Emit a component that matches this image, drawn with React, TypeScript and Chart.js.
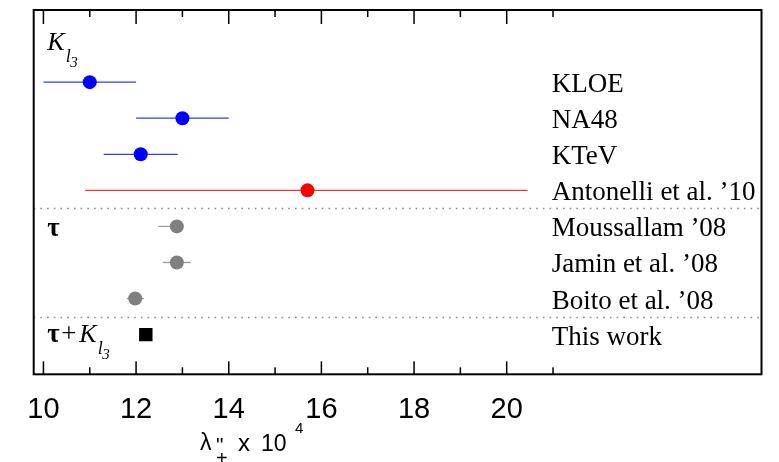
import { useEffect, useRef } from 'react';
import { Chart, registerables } from 'chart.js';

Chart.register(...registerables);

// Determinations of the curvature parameter lambda''_+ (in units of 1e-4)
const measurements = [
  'KLOE',
  'NA48',
  'KTeV',
  'Antonelli et al. ’10',
  'Moussallam ’08',
  'Jamin et al. ’08',
  'Boito et al. ’08',
  'This work',
];
const lambdaValues = [11.0, 13.0, 12.1, 15.7, 12.88, 12.88, 11.98, 12.21];
const errorsLow = [1.0, 1.0, 0.8, 4.8, 0.4, 0.3, 0.18, 0];
const errorsHigh = [1.0, 1.0, 0.8, 4.75, 0.1, 0.3, 0.19, 0];

// Row groups: K_l3 experiments, K_l3 average, tau-based analyses, combined fit
const kl3Rows = [0, 1, 2];
const kl3AverageRows = [3];
const tauRows = [4, 5, 6];
const combinedRows = [7];

const separatorRows = [3.5, 6.5];
const tickValues = [10, 11, 12, 13, 14, 15, 16, 17, 18, 19, 20, 21];
const tickLabels = ['10', '12', '14', '16', '18', '20'];
const labelColumnValue = 20.97;

const SERIF = "'Liberation Serif', 'Times New Roman', serif";
const SANS = "'Liberation Sans', Arial, sans-serif";

const rowPoints = (rows: number[]) =>
  rows.map((r) => ({ x: lambdaValues[r], y: r, lo: errorsLow[r], hi: errorsHigh[r] }));

const decorPlugin = {
  id: 'decor',
  beforeDatasetsDraw(chart: any) {
    const { ctx, chartArea } = chart;
    const xs = chart.scales.x;
    const ys = chart.scales.y;
    ctx.save();
    // dotted separators between groups
    ctx.setLineDash([1.6, 5.1]);
    ctx.strokeStyle = '#8a8a8a';
    ctx.lineWidth = 1.4;
    separatorRows.forEach((s) => {
      const py = Math.round(ys.getPixelForValue(s)) + 0.5;
      ctx.beginPath();
      ctx.moveTo(chartArea.left, py);
      ctx.lineTo(chartArea.right, py);
      ctx.stroke();
    });
    ctx.setLineDash([]);
    // horizontal error bars
    chart.data.datasets.forEach((ds: any) => {
      ctx.strokeStyle = ds.errorColor;
      ctx.lineWidth = 1.3;
      ds.data.forEach((p: any) => {
        if (!p.lo && !p.hi) return;
        const py = ys.getPixelForValue(p.y);
        ctx.beginPath();
        ctx.moveTo(xs.getPixelForValue(p.x - p.lo), py);
        ctx.lineTo(xs.getPixelForValue(p.x + p.hi), py);
        ctx.stroke();
      });
    });
    ctx.restore();
  },
  afterDraw(chart: any) {
    const { ctx, chartArea } = chart;
    const xs = chart.scales.x;
    const ys = chart.scales.y;
    const { left, right, top, bottom } = chartArea;
    ctx.save();
    ctx.fillStyle = '#000';
    ctx.strokeStyle = '#000';

    // frame
    ctx.lineWidth = 2;
    ctx.strokeRect(left, top, right - left, bottom - top);

    // ticks pointing into the plot from the bottom and top edges
    tickValues.forEach((v) => {
      const px = xs.getPixelForValue(v);
      const major = v % 2 === 0;
      const lenBottom = major ? 13 : 7;
      const lenTop = major ? 14 : 7;
      ctx.fillRect(px - 0.75, bottom - lenBottom, 1.5, lenBottom);
      ctx.fillRect(px - 0.75, top, 1.5, lenTop);
    });

    // tick labels
    ctx.font = `29px ${SANS}`;
    ctx.textAlign = 'center';
    ctx.textBaseline = 'alphabetic';
    tickLabels.forEach((t) => {
      ctx.fillText(t, xs.getPixelForValue(Number(t)), 418);
    });

    // axis title: lambda''_+ x 10^4
    ctx.textAlign = 'left';
    ctx.font = `23px ${SANS}`;
    ctx.fillText('λ', 200, 450);
    ctx.font = `21px ${SANS}`;
    ctx.fillText('"', 216, 452);
    ctx.font = `20px ${SANS}`;
    ctx.fillText('+', 216, 465);
    ctx.font = `24px ${SANS}`;
    ctx.fillText('x', 238, 451);
    ctx.font = `23px ${SANS}`;
    ctx.fillText('10', 261, 451);
    ctx.font = `15px ${SANS}`;
    ctx.fillText('4', 295, 433);

    // measurement names
    ctx.font = `27px ${SERIF}`;
    const lx = xs.getPixelForValue(labelColumnValue);
    measurements.forEach((m, i) => {
      ctx.fillText(m, lx, ys.getPixelForValue(i) + 10);
    });

    // group labels
    const gx = left + 13.5;
    const kRowY = ys.getPixelForValue(-0.9);
    ctx.font = `italic 26px ${SERIF}`;
    ctx.fillText('K', gx, kRowY);
    ctx.font = `italic 18px ${SERIF}`;
    ctx.fillText('l', gx + 18.5, kRowY + 12);
    ctx.font = `italic 15px ${SERIF}`;
    ctx.fillText('3', gx + 23, kRowY + 17);

    const tauY = ys.getPixelForValue(4) + 10;
    ctx.font = `bold 27px ${SERIF}`;
    ctx.fillText('τ', gx, tauY);

    const combY = ys.getPixelForValue(7) + 7;
    ctx.font = `bold 27px ${SERIF}`;
    ctx.fillText('τ', gx, combY);
    ctx.font = `27px ${SERIF}`;
    ctx.fillText('+', gx + 14, combY);
    ctx.font = `italic 26px ${SERIF}`;
    ctx.fillText('K', gx + 32, combY);
    ctx.font = `italic 18px ${SERIF}`;
    ctx.fillText('l', gx + 50.5, combY + 12);
    ctx.font = `italic 15px ${SERIF}`;
    ctx.fillText('3', gx + 55, combY + 17);

    ctx.restore();
  },
};

export default function App() {
  const canvasRef = useRef<HTMLCanvasElement | null>(null);

  useEffect(() => {
    const canvas = canvasRef.current;
    if (!canvas) return;
    const chart = new Chart(canvas, {
      type: 'scatter',
      data: {
        datasets: [
          {
            label: 'Kl3 experiments',
            data: rowPoints(kl3Rows),
            pointStyle: 'circle',
            pointRadius: 7,
            pointBorderWidth: 0,
            backgroundColor: '#0000ff',
            borderColor: '#0000ff',
            errorColor: '#2a3cff',
          } as any,
          {
            label: 'Kl3 average',
            data: rowPoints(kl3AverageRows),
            pointStyle: 'circle',
            pointRadius: 7,
            pointBorderWidth: 0,
            backgroundColor: '#ff0000',
            borderColor: '#ff0000',
            errorColor: '#ff3030',
          } as any,
          {
            label: 'tau decays',
            data: rowPoints(tauRows),
            pointStyle: 'circle',
            pointRadius: 7,
            pointBorderWidth: 0,
            backgroundColor: '#808080',
            borderColor: '#808080',
            errorColor: '#9a9a9a',
          } as any,
          {
            label: 'tau + Kl3',
            data: rowPoints(combinedRows),
            pointStyle: 'rect',
            pointRadius: 9.5,
            pointBorderWidth: 0,
            backgroundColor: '#000000',
            borderColor: '#000000',
            errorColor: '#000000',
          } as any,
        ],
      },
      options: {
        animation: false,
        responsive: false,
        devicePixelRatio: 1,
        layout: { padding: { left: 33.7, right: 17.5, top: 10, bottom: 87.7 } },
        scales: {
          x: { type: 'linear', min: 9.79, max: 25.5, display: false },
          y: { type: 'linear', min: -2, max: 8.1, reverse: true, display: false },
        },
        plugins: {
          legend: { display: false },
          tooltip: { enabled: false },
        },
      },
      plugins: [decorPlugin],
    });
    return () => chart.destroy();
  }, []);

  return (
    <div style={{ position: 'fixed', left: 0, top: 0, width: 779, height: 462, background: '#fff' }}>
      <canvas ref={canvasRef} width={779} height={462} />
    </div>
  );
}
